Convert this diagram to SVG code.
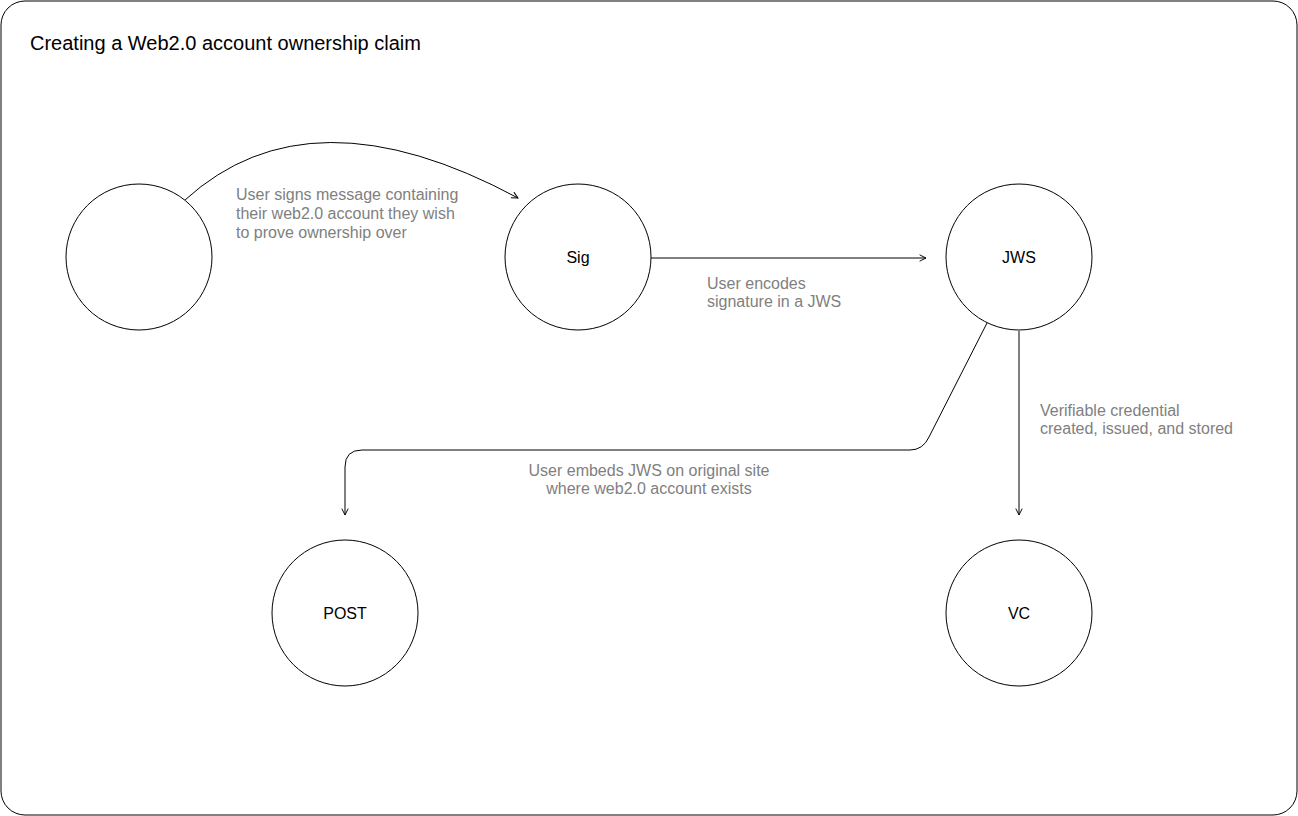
<svg xmlns="http://www.w3.org/2000/svg" width="1298" height="816" viewBox="0 0 1298 816">
  <style>
    .frame { fill: #ffffff; stroke: #000000; stroke-width: 1; }
    .node { fill: #ffffff; stroke: #000000; stroke-width: 1; }
    .edge { fill: none; stroke: #000000; stroke-width: 1; }
    .title { font-family: "Liberation Sans", Arial, sans-serif; font-size: 20px; fill: #000000; }
    .label { font-family: "Liberation Sans", Arial, sans-serif; font-size: 16px; fill: #000000; text-anchor: middle; }
    .note { font-family: "Liberation Sans", Arial, sans-serif; font-size: 16px; fill: #808080; }
  </style>
  <defs>
    <marker id="arrow" viewBox="0 0 10 10" refX="9" refY="5" markerWidth="8" markerHeight="8" markerUnits="userSpaceOnUse" orient="auto">
      <path d="M1,1 L9,5 L1,9" fill="none" stroke="#000000" stroke-width="1.2"/>
    </marker>
  </defs>

  <rect class="frame" x="1" y="1" width="1296" height="814" rx="24" ry="24"/>
  <text class="title" x="30" y="50">Creating a Web2.0 account ownership claim</text>

  <g id="connectors">
    <path class="edge" d="M185,200 Q310,86 518,198" marker-end="url(#arrow)"/>
    <path class="edge" d="M651,258 L926,258" marker-end="url(#arrow)"/>
    <path class="edge" d="M987,323 L929,437 Q923,450 910,450 L362,450 Q345,450 345,467 L345,515" marker-end="url(#arrow)"/>
    <path class="edge" d="M1019,331 L1019,515" marker-end="url(#arrow)"/>
    <text class="note" x="236" y="200">User signs message containing</text>
    <text class="note" x="236" y="219">their web2.0 account they wish</text>
    <text class="note" x="236" y="238">to prove ownership over</text>
    <text class="note" x="707" y="289">User encodes</text>
    <text class="note" x="707" y="307">signature in a JWS</text>
    <text class="note" x="649" y="476" text-anchor="middle">User embeds JWS on original site</text>
    <text class="note" x="649" y="494" text-anchor="middle">where web2.0 account exists</text>
    <text class="note" x="1040" y="416">Verifiable credential</text>
    <text class="note" x="1040" y="434">created, issued, and stored</text>
  </g>

  <g id="user">
    <circle class="node" cx="139" cy="257" r="73"/>
  </g>
  <g id="sig">
    <circle class="node" cx="578" cy="257" r="73"/>
    <text class="label" x="578" y="263">Sig</text>
  </g>
  <g id="jws">
    <circle class="node" cx="1019" cy="257" r="73"/>
    <text class="label" x="1019" y="263">JWS</text>
  </g>
  <g id="post">
    <circle class="node" cx="345" cy="613" r="73"/>
    <text class="label" x="345" y="619">POST</text>
  </g>
  <g id="vc">
    <circle class="node" cx="1019" cy="613" r="73"/>
    <text class="label" x="1019" y="619">VC</text>
  </g>
</svg>
